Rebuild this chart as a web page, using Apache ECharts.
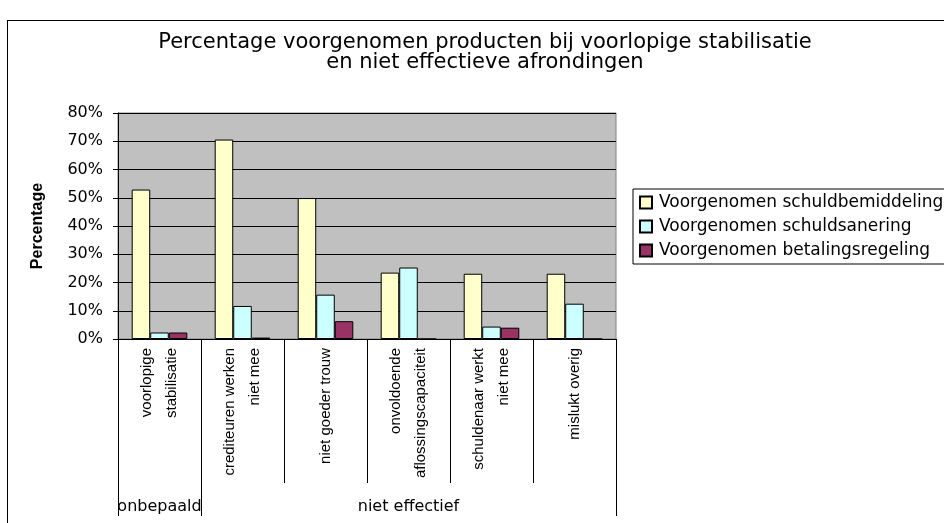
<!DOCTYPE html>
<html>
<head>
<meta charset="utf-8">
<script src="https://cdn.jsdelivr.net/npm/echarts@6/dist/echarts.min.js"></script>
<style>
  html, body { margin: 0; padding: 0; background: #fff; }
  #wrap { position: relative; width: 944px; height: 523px; overflow: hidden; }
  #chart { width: 944px; height: 523px; }
  #frame {
    position: absolute; left: 7px; top: 20px; width: 1000px; height: 600px;
    border: 1px solid #000; pointer-events: none;
  }
</style>
</head>
<body>
<div id="wrap">
  <div id="chart"></div>
  <div id="frame"></div>
</div>
<script>
const categories = [
  'voorlopige\nstabilisatie',
  'crediteuren werken\nniet mee',
  'niet goeder trouw',
  'onvoldoende\naflossingscapaciteit',
  'schuldenaar werkt\nniet mee',
  'mislukt overig',
];
const groups = ['onbepaald', 'niet effectief'];
const groupSpans = [1, 5];

const seriesNames = [
  'Voorgenomen schuldbemiddeling',
  'Voorgenomen schuldsanering',
  'Voorgenomen betalingsregeling',
];
const schuldbemiddeling = [52.9, 70.6, 49.9, 23.5, 23.1, 23.1];
const schuldsanering = [2.3, 11.7, 15.7, 25.3, 4.4, 12.5];
const betalingsregeling = [2.3, 0.5, 6.3, 0, 4.0, 0];
const yTicks = [0, 10, 20, 30, 40, 50, 60, 70, 80];

const colors = ['#FFFFCC', '#CCFFFF', '#993366'];

// group boundaries and centres on a 0..n scale
const groupEdges = [0];
groupSpans.forEach((s) => groupEdges.push(groupEdges[groupEdges.length - 1] + s));
const groupCenters = groupSpans.map((s, i) => groupEdges[i] + s / 2);

const chart = echarts.init(document.getElementById('chart'));
const wide = 'DejaVu Sans, Verdana, sans-serif';
const narrow = 'Liberation Sans Narrow, Arial Narrow, sans-serif';

const option = {
  animation: false,
  textStyle: { fontFamily: wide },
  title: {
    text: 'Percentage voorgenomen producten bij voorlopige stabilisatie\nen niet effectieve afrondingen',
    left: 480,
    top: 28,
    textAlign: 'center',
    textStyle: {
      fontFamily: wide,
      fontSize: 21,
      fontWeight: 'normal',
      color: '#000',
      lineHeight: 20,
    },
  },
  legend: {
    orient: 'vertical',
    left: 633,
    top: 189,
    padding: [5, 60, 5, 6],
    itemGap: 7,
    itemWidth: 12,
    itemHeight: 12,
    icon: 'rect',
    borderColor: '#000',
    borderWidth: 1,
    textStyle: { fontFamily: wide, fontSize: 17, color: '#000', padding: [0, 0, 0, 2] },
    data: seriesNames,
  },
  grid: {
    left: 118,
    right: 328,
    top: 113,
    bottom: 184,
    show: true,
    backgroundColor: '#C0C0C0',
    borderColor: '#808080',
    borderWidth: 1,
  },
  xAxis: [
    {
      type: 'category',
      data: categories,
      axisLine: { lineStyle: { color: '#000', width: 1 } },
      axisTick: { show: true, interval: 0, length: 144, lineStyle: { color: '#000' } },
      axisLabel: {
        rotate: 90,
        interval: 0,
        margin: 9,
        fontFamily: narrow,
        fontSize: 15,
        lineHeight: 25,
        color: '#000',
        align: 'right',
      },
      splitLine: { show: false },
    },
    {
      type: 'value',
      position: 'bottom',
      min: 0,
      max: categories.length,
      axisLine: { show: false },
      axisTick: {
        show: true,
        length: 177,
        customValues: groupEdges,
        lineStyle: { color: '#000' },
      },
      axisLabel: {
        customValues: groupCenters,
        margin: 160,
        fontFamily: wide,
        fontSize: 16,
        color: '#000',
        formatter: (v) => {
          const i = groupCenters.findIndex((c) => Math.abs(c - v) < 1e-6);
          return i >= 0 ? groups[i] : '';
        },
      },
      splitLine: { show: false },
    },
  ],
  yAxis: {
    type: 'value',
    min: yTicks[0],
    max: yTicks[yTicks.length - 1],
    interval: 10,
    name: 'Percentage',
    nameLocation: 'middle',
    nameGap: 72,
    nameTextStyle: { fontFamily: narrow, fontSize: 16, fontWeight: 'bold', color: '#000' },
    axisLine: { show: true, lineStyle: { color: '#000' } },
    axisTick: { show: true, length: 5, lineStyle: { color: '#000' } },
    axisLabel: { formatter: '{value}%', fontFamily: wide, fontSize: 16, color: '#000', margin: 15 },
    splitLine: { lineStyle: { color: '#000', width: 1 } },
  },
  series: [schuldbemiddeling, schuldsanering, betalingsregeling].map((vals, i) => ({
    name: seriesNames[i],
    type: 'bar',
    xAxisIndex: 0,
    data: vals,
    barGap: '0%',
    barCategoryGap: '33%',
    itemStyle: { color: colors[i], borderColor: '#000', borderWidth: 1 },
  })),
};

chart.setOption(option);
</script>
</body>
</html>
